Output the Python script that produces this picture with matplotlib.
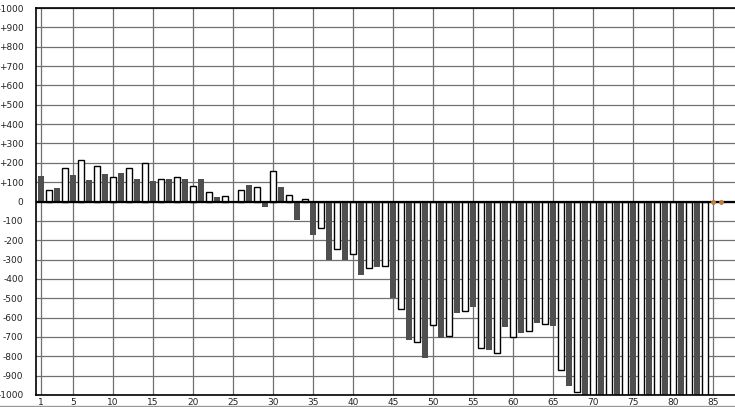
import matplotlib
matplotlib.use('Agg')
import matplotlib.pyplot as plt
from matplotlib.lines import Line2D

# values per position 1..84 (69 onwards run off the bottom of the scale)
values = [132, 58, 68, 172, 137, 214, 110, 182, 142, 125,
          147, 172, 116, 198, 105, 114, 116, 125, 116, 82,
          116, 47, 21, 30, 0, 61, 84, 77, -26, 156,
          74, 35, -95, 14, -174, -139, -302, -244, -302, -270,
          -382, -344, -340, -333, -500, -554, -718, -726, -807, -638,
          -704, -695, -577, -564, -547, -756, -765, -784, -650, -700,
          -681, -669, -629, -632, -645, -873, -951, -983, -1000, -1000,
          -1000, -1000, -1000, -1000, -1000, -1000, -1000, -1000, -1000, -1000,
          -1000, -1000, -1000, -1000]
positions = list(range(1, len(values) + 1))
empty_pos = [85, 86]
xticks = [1, 5, 10, 15, 20, 25, 30, 35, 40, 45, 50, 55, 60, 65, 70, 75, 80, 85]
yticks = list(range(-1000, 1001, 100))
ylabels = [('+%d' % v if v > 0 else str(v)) for v in yticks]

plt.rcParams['font.family'] = ['DejaVu Sans']

fig = plt.figure(figsize=(7.35, 4.07), dpi=100)
ax = fig.add_axes([36 / 735, 12 / 407, 1 - 36 / 735, 387 / 407])

dark_x = [p for p in positions if p % 2 == 1]
dark_y = [values[p - 1] for p in dark_x]
light_x = [p for p in positions if p % 2 == 0]
light_y = [values[p - 1] for p in light_x]

ax.bar(dark_x, dark_y, width=0.75, color='#4f4f4f', edgecolor='none', zorder=2)
ax.bar(light_x, light_y, width=0.68, color='white', edgecolor='black', linewidth=1.0, zorder=2)
ax.plot(empty_pos, [0] * len(empty_pos), linestyle='none', marker='o', markersize=2.5,
        color='#c0803a', zorder=4)

ax.axhline(0, color='black', linewidth=1.6, zorder=3)

ax.set_xlim(0.375, 87.75)
ax.set_ylim(-1000, 1000)
ax.set_xticks(xticks)
ax.set_xticklabels([str(t) for t in xticks])
ax.set_yticks(yticks)
ax.set_yticklabels(ylabels)
ax.tick_params(length=0, labelsize=6.5, colors='#222222')
ax.tick_params(axis='x', pad=2)
ax.tick_params(axis='y', pad=9)
ax.grid(True, color='#707070', linewidth=0.9, zorder=0)
ax.set_axisbelow(True)

for s in ['left', 'bottom', 'top']:
    ax.spines[s].set_color('black')
    ax.spines[s].set_linewidth(1.2)
ax.spines['right'].set_visible(False)

fig.add_artist(Line2D([0, 1], [1.5 / 407, 1.5 / 407], transform=fig.transFigure,
                      color='#9a9a9a', linewidth=1))

fig.savefig('out.png', dpi=100)
